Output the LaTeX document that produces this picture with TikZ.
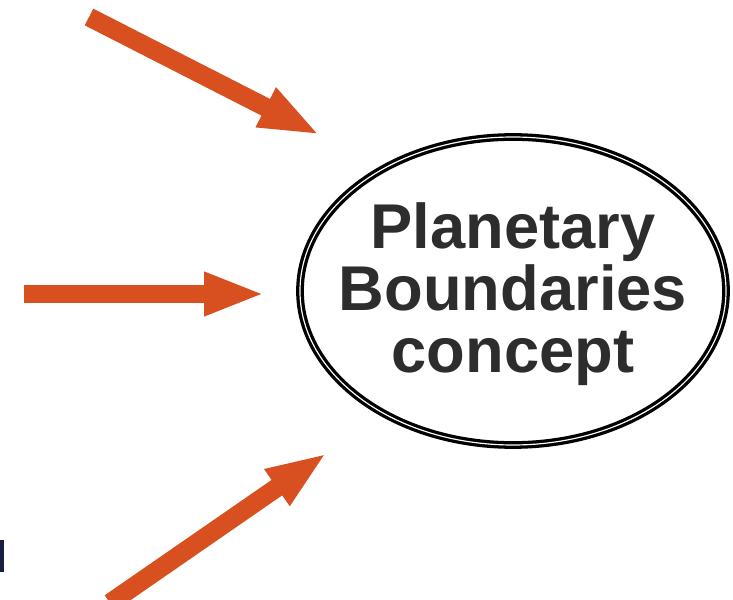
\documentclass[tikz,border=0pt]{standalone}
\usepackage{fontspec}
\setmainfont{Liberation Sans}
\usepackage{xcolor}
\usepackage{tikz}
\usetikzlibrary{arrows.meta,shapes,positioning}
\definecolor{arrorange}{RGB}{216,80,32}
\definecolor{textgrey}{RGB}{45,45,45}
\definecolor{edgenavy}{RGB}{26,32,64}
\tikzstyle{concept} = [ellipse, minimum width=12.78cm, minimum height=9.24cm, inner sep=0pt, draw=black, line width=2.8pt, double=white, double distance=1pt]
\tikzstyle{conceptText} = [text=textgrey, font=\bfseries\fontsize{54}{53}\selectfont, align=center]
\tikzstyle{fatArrow} = [draw=arrorange, line width=16pt, -{Triangle[length=52pt, width=34pt]}]

\begin{document}
\begin{tikzpicture}[x=0.03cm, y=-0.03cm]
\useasboundingbox (0,0) rectangle (733,600);

\node (pb) [concept] at (513,291) {};
\node (pbText) [conceptText] at (513,294) {Planetary\\Boundaries\\concept};

\coordinate (topTail) at (89,17);
\coordinate (topTip) at (320,135);
\coordinate (midTail) at (24,294);
\coordinate (midTip) at (265,294);
\coordinate (lowTail) at (110,603);
\coordinate (lowTip) at (327,453);

\draw[fatArrow] (topTail) -- (topTip);
\draw[fatArrow] (midTail) -- (midTip);
\draw[fatArrow] (lowTail) -- (lowTip);

% cut-off edge at the left
\fill[edgenavy] (0,540) rectangle (4,572);

\end{tikzpicture}
\end{document}
